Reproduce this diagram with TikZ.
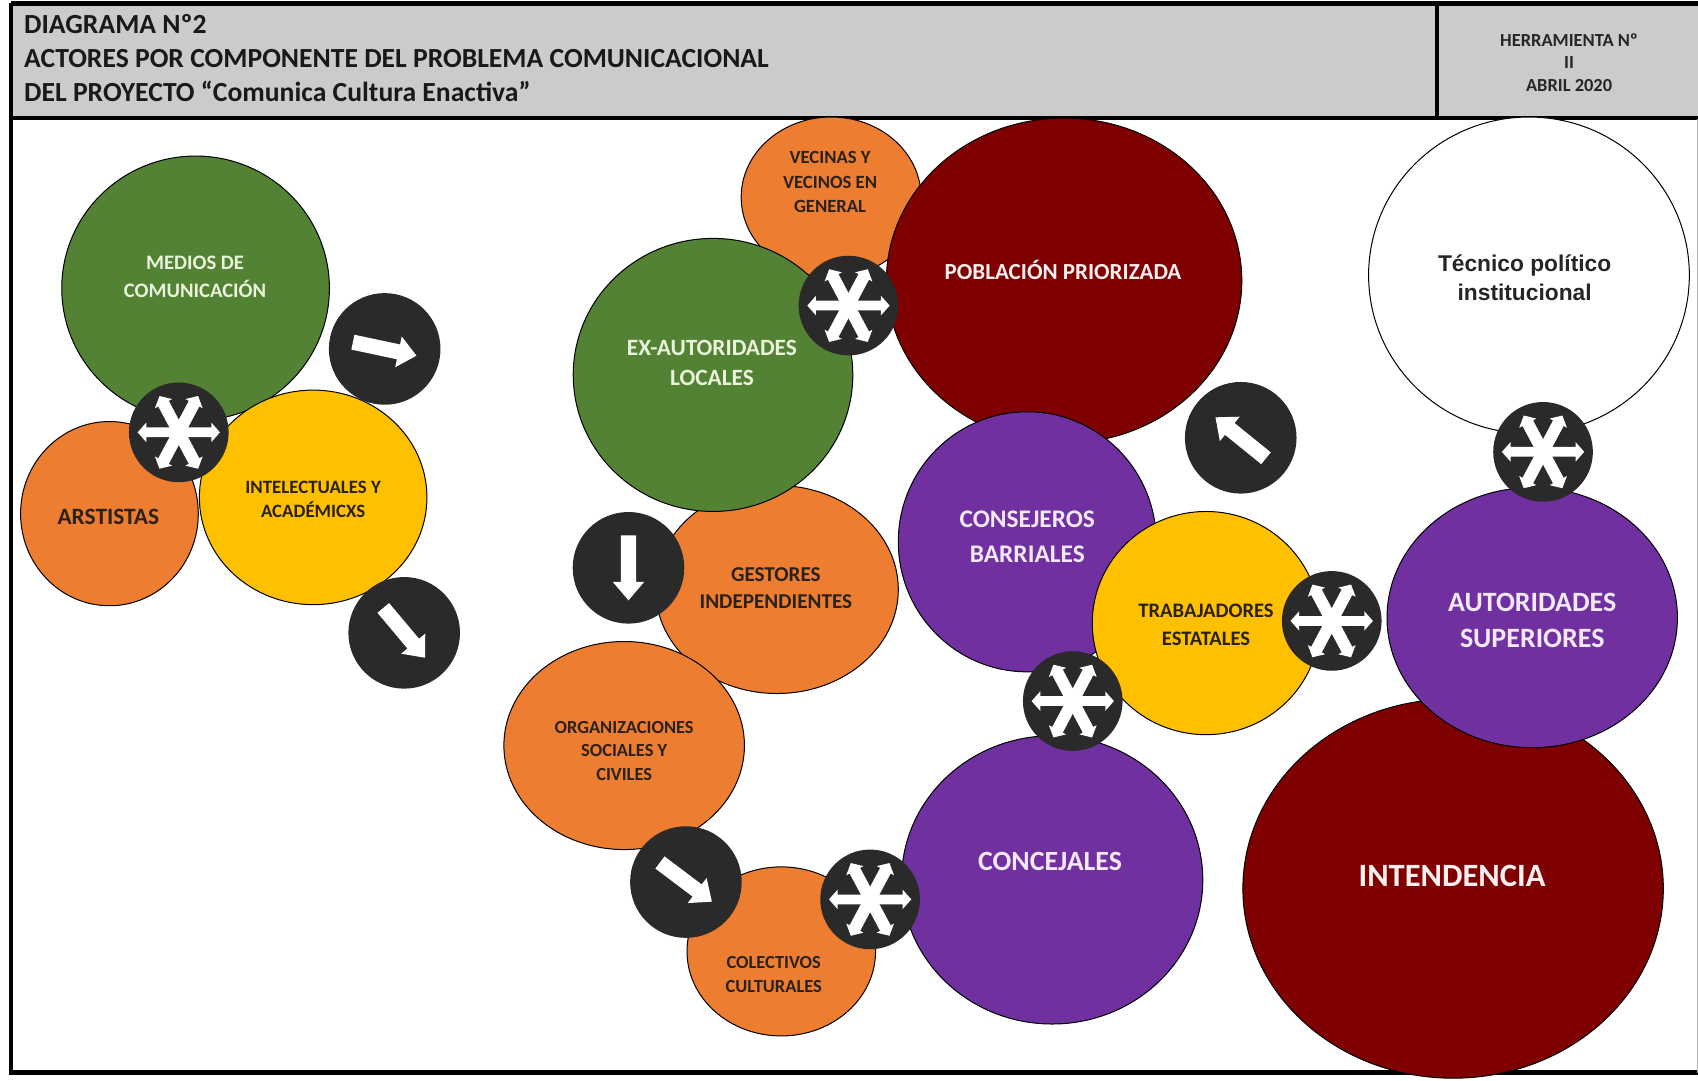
\documentclass[tikz,border=0pt]{standalone}
\usepackage{fontspec}
\setmainfont{Carlito}
\newfontfamily\arialfont{Liberation Sans}
\definecolor{hdr}{HTML}{CBCBCB}
\definecolor{cgreen}{HTML}{548235}
\definecolor{corange}{HTML}{ED7D31}
\definecolor{cyellow}{HTML}{FFC000}
\definecolor{cred}{HTML}{7F0000}
\definecolor{cpurple}{HTML}{7030A0}
\definecolor{cdark}{HTML}{2A2A2A}
\definecolor{tlight}{HTML}{EAF3DC}
\definecolor{tlav}{HTML}{F3E8F8}
\definecolor{tred}{HTML}{FBEFEF}
\definecolor{tdark}{HTML}{2A2118}
\newcommand{\fsz}[2]{\pgfmathsetmacro{\myfs}{#1*0.65}\pgfmathsetmacro{\mybs}{#2*0.65}\fontsize{\myfs pt}{\mybs pt}\selectfont}
\tikzset{
  blob/.style={draw=black,line width=0.6pt},
  badge/.style={fill=cdark},
  glyph/.style={fill=white},
  rule/.style={line width=2.8pt,draw=black},
  lbl/.style 2 args={align=center,inner sep=0pt,font=\bfseries\fsz{#1}{#2}},
  dk/.style 2 args={lbl={#1}{#2},text=tdark},
  lt/.style 2 args={lbl={#1}{#2},text=tlight},
  lv/.style 2 args={lbl={#1}{#2},text=tlav},
}
\newcommand{\blobat}[5]{\path[blob,fill=#5] (#1,#2) ellipse [x radius=#3,y radius=#4];}
\newcommand{\dblarrow}[4]{\begin{scope}[shift={(#1,#2)},rotate=#3]
\fill[glyph] (-38,0)--(-30,-9)--(-30,-#4)--(30,-#4)--(30,-9)--(38,0)--(30,9)--(30,#4)--(-30,#4)--(-30,9)--cycle;
\end{scope}}
\newcommand{\sixarrow}[2]{\fill[badge] (#1,#2) circle [radius=46];\dblarrow{#1}{#2}{0}{4.5}\dblarrow{#1}{#2}{62}{5.5}\dblarrow{#1}{#2}{-62}{5.5}}
\newcommand{\onearrow}[3]{\fill[badge] (#1,#2) circle [radius=51.5];
\begin{scope}[shift={(#1,#2)},rotate=#3]
\fill[glyph] (-30,-7)--(13,-7)--(13,-14.5)--(30,0)--(13,14.5)--(13,7)--(-30,7)--cycle;
\end{scope}}
\begin{document}
\begin{tikzpicture}[x=0.6498pt,y=-0.6498pt]
\useasboundingbox (0,0) rectangle (1567,997);
\fill[white] (0,0) rectangle (1567,997);
% header
\fill[hdr] (10,3) rectangle (1567,109);
\draw[rule] (10,3) -- (1567,3);
\draw[rule] (10,3) -- (10,990) -- (1567,990);
\draw[rule] (10,109) -- (1567,109);
\draw[rule] (1326,3) -- (1326,109);
\draw[gray!60,line width=0.5pt] (1566.5,110) -- (1566.5,990);
\node[lbl={25.5}{30},anchor=west,text=black!90] (t1) at (22,22) {DIAGRAMA Nº2};
\node[lbl={25.5}{30},anchor=west,text=black!90] (t2) at (22,54) {ACTORES POR COMPONENTE DEL PROBLEMA COMUNICACIONAL};
\node[lbl={25.5}{30},anchor=west,text=black!90] (t3) at (22,84) {DEL PROYECTO “Comunica Cultura Enactiva”};
\node[lbl={17}{20},text=black!85] (h1) at (1448,37) {HERRAMIENTA Nº};
\node[lbl={17}{20},text=black!85] (h2) at (1448,58) {II};
\node[lbl={17}{20},text=black!85] (h3) at (1448,79) {ABRIL 2020};
% left group
\blobat{180.5}{266}{123.5}{122}{cgreen}
\blobat{101}{474}{82}{85}{corange}
\blobat{289}{459}{105}{99}{cyellow}
% middle group
\blobat{767}{182}{83}{74}{corange}
\blobat{982}{259}{164}{150}{cred}
\blobat{717}{544}{112}{96}{corange}
\blobat{658}{346}{129}{126}{cgreen}
\blobat{576}{688}{111}{96}{corange}
\blobat{721}{878}{87}{78}{corange}
\blobat{971}{812}{139}{133}{cpurple}
\blobat{948}{500}{119}{120}{cpurple}
\blobat{1113}{575}{105}{103}{cyellow}
% right group
\blobat{1411}{254}{148}{146}{white}
\blobat{1341}{820}{194}{175}{cred}
\blobat{1414}{570}{134}{120}{cpurple}
% labels
\node[lt={19}{25}] (n1) at (180,255.5) {MEDIOS DE\\COMUNICACIÓN};
\node[dk={21.6}{26}] (n2) at (100,477) {ARSTISTAS};
\node[dk={17.4}{22}] (n3) at (289,461) {INTELECTUALES Y\\ACADÉMICXS};
\node[dk={17.2}{22.5}] (n4) at (766,168) {VECINAS Y\\VECINOS EN\\GENERAL};
\node[lbl={21.2}{26},text=tred] (n5) at (981,249) {POBLACIÓN PRIORIZADA};
\node[lt={21.5}{28}] (n6) at (657,335) {EX-AUTORIDADES\\LOCALES};
\node[dk={19.5}{25}] (n7) at (716,543) {GESTORES\\INDEPENDIENTES};
\node[dk={17}{22}] (n8) at (576,693) {ORGANIZACIONES\\SOCIALES Y\\CIVILES};
\node[dk={17}{22}] (n9) at (714,899) {COLECTIVOS\\CULTURALES};
\node[lv={25.7}{30}] (n10) at (969,795) {CONCEJALES};
\node[lv={23.4}{32}] (n11) at (948,495.5) {CONSEJEROS\\BARRIALES};
\node[dk={19}{26}] (n12) at (1113,576.5) {TRABAJADORES\\ESTATALES};
\node[lv={25.8}{34}] (n13) at (1414,572.5) {AUTORIDADES\\SUPERIORES};
\node[lbl={30}{36},text=tred] (n14) at (1340,808) {INTENDENCIA};
\node[lbl={21}{27},text=black!85,font=\arialfont\bfseries\fsz{21}{27}] (n15) at (1407,256) {Técnico político\\institucional};
% badges
\sixarrow{165}{399}
\sixarrow{783}{282}
\sixarrow{1424}{417}
\sixarrow{1229}{573}
\sixarrow{990}{647}
\sixarrow{803}{830}
\onearrow{355}{322}{-12}
\onearrow{373}{584}{-50}
\onearrow{580}{524}{-90}
\onearrow{1145}{404}{141}
\onearrow{633}{814}{-37}
\end{tikzpicture}
\end{document}
